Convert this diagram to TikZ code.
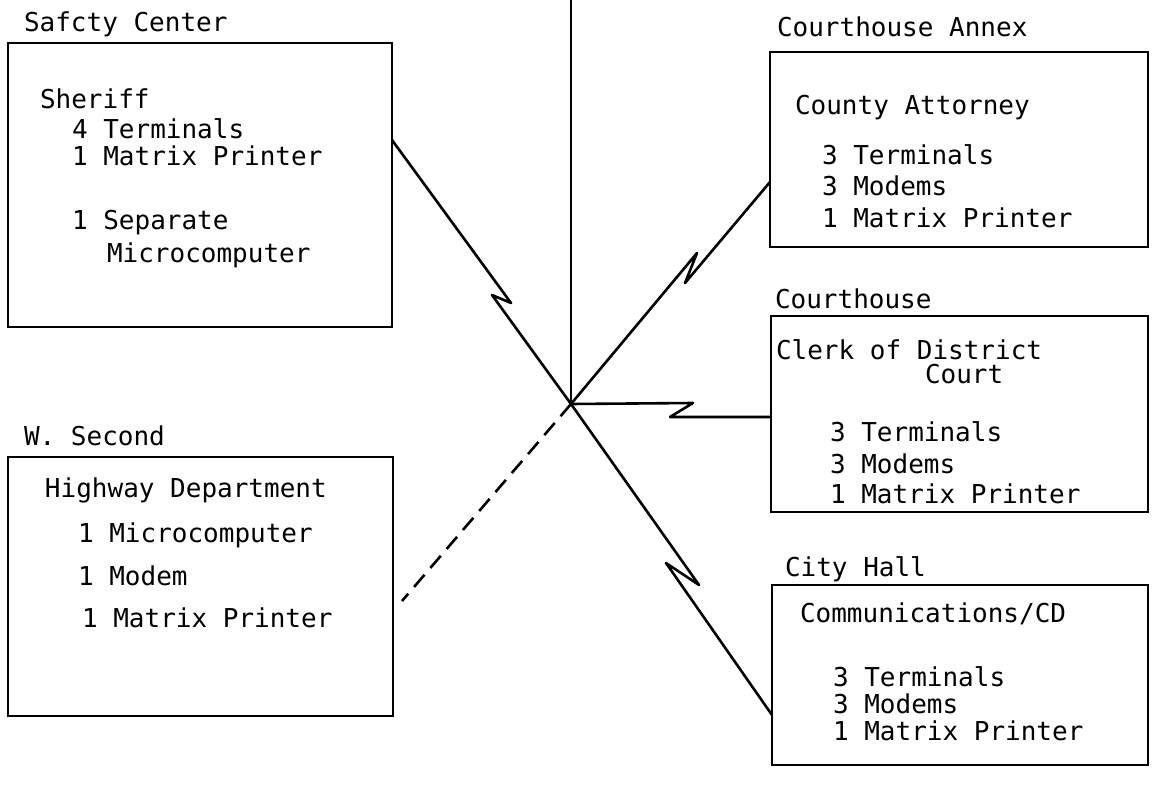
\documentclass[tikz,border=0pt]{standalone}
\usepackage{fontspec}
\newfontfamily\typefont{DejaVu Sans Mono}
\begin{document}
\begin{tikzpicture}[x=1pt,y=-1pt,
  box/.style={draw, line width=2.6pt, inner sep=0pt, outer sep=0pt},
  txt/.style={anchor=base west, inner sep=0pt, outer sep=0pt,
              font=\typefont\fontsize{26}{30}\selectfont},
  conn/.style={line width=2.6pt, line join=round, line cap=round},
  link/.style={conn, dash pattern=on 16pt off 9pt, line cap=butt}]
\useasboundingbox (0,0) rectangle (1152,792);

% ---- sites ----
\node[box, minimum width=384pt, minimum height=284pt] (sc)   at (200,185)   {};
\node[box, minimum width=378pt, minimum height=195pt] (ca)   at (959,149.5) {};
\node[box, minimum width=377pt, minimum height=196pt] (ch)   at (959.5,414) {};
\node[box, minimum width=376pt, minimum height=180pt] (hall) at (960,675)   {};
\node[box, minimum width=385pt, minimum height=259pt] (ws)   at (200.5,586.5) {};

% ---- Safety Center ----
\node[txt] (scT)  at (24,32)   {Safcty Center};
\node[txt] (sc1)  at (40,108)  {Sheriff};
\node[txt] (sc2)  at (72,139)  {4 Terminals};
\node[txt] (sc3)  at (72,165)  {1 Matrix Printer};
\node[txt] (sc4)  at (72,229)  {1 Separate};
\node[txt] (sc5)  at (107,262) {Microcomputer};

% ---- Courthouse Annex ----
\node[txt] (caT)  at (777,37)  {Courthouse Annex};
\node[txt] (ca1)  at (795,114) {County Attorney};
\node[txt] (ca2)  at (822,164) {3 Terminals};
\node[txt] (ca3)  at (822,195) {3 Modems};
\node[txt] (ca4)  at (822,227) {1 Matrix Printer};

% ---- Courthouse ----
\node[txt] (chT)  at (775,308) {Courthouse};
\node[txt] (ch1)  at (776,359) {Clerk of District};
\node[txt] (ch2)  at (925,383) {Court};
\node[txt] (ch3)  at (830,441) {3 Terminals};
\node[txt] (ch4)  at (830,473) {3 Modems};
\node[txt] (ch5)  at (830,503) {1 Matrix Printer};

% ---- City Hall ----
\node[txt] (hallT) at (785,576) {City Hall};
\node[txt] (hall1) at (800,622) {Communications/CD};
\node[txt] (hall2) at (833,686) {3 Terminals};
\node[txt] (hall3) at (833,713) {3 Modems};
\node[txt] (hall4) at (833,740) {1 Matrix Printer};

% ---- W. Second ----
\node[txt] (wsT) at (24,445)  {W. Second};
\node[txt] (ws1) at (45,497)  {Highway Department};
\node[txt] (ws2) at (78,542)  {1 Microcomputer};
\node[txt] (ws3) at (78,585)  {1 Modem};
\node[txt] (ws4) at (82,627)  {1 Matrix Printer};

% ---- network hub and ports ----
\coordinate (hub)      at (571,404);
\coordinate (top)      at (571,0);
\coordinate (scPort)   at (sc.east |- 0,140);
\coordinate (caPort)   at (ca.west |- 0,182);
\coordinate (chPort)   at (ch.west |- 0,417);
\coordinate (hallPort) at (hall.west |- 0,715);
\coordinate (wsPort)   at (402,601);

% ---- lines (each link with its lightning-bolt break) ----
\draw[conn] (top) -- (hub);
\draw[conn] (scPort) -- (511,303) -- (492,295) -- (hub);
\draw[conn] (hub) -- (697,253) -- (685,283) -- (caPort);
\draw[conn] (hub) -- (693,403) -- (670,417) -- (chPort);
\draw[conn] (hub) -- (699,585) -- (666,563) -- (hallPort);
\draw[link] (hub) -- (wsPort);
\end{tikzpicture}
\end{document}
